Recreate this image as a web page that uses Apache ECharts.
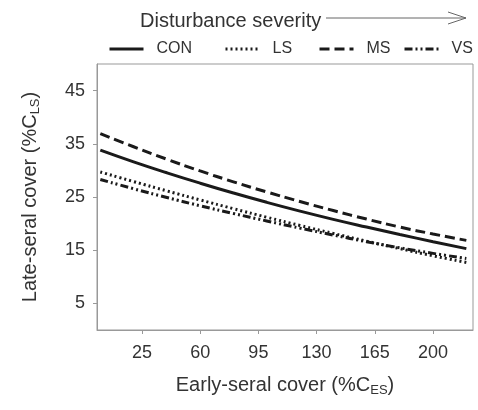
<!DOCTYPE html>
<html>
<head>
<meta charset="utf-8">
<script src="https://cdn.jsdelivr.net/npm/echarts@6/dist/echarts.min.js"></script>
<style>
html,body{margin:0;padding:0;background:#fff;}
#chart{width:478px;height:410px;}
</style>
</head>
<body>
<div id="chart"></div>
<script>
const xValues = [0, 20, 40, 60, 80, 100, 120, 140, 160, 180, 200, 220];
const seriesNames = ['CON', 'LS', 'MS', 'VS'];
const conValues = [33.8, 31.6, 29.55, 27.6, 25.75, 24.0, 22.35, 20.8, 19.35, 17.95, 16.6, 15.3];
const lsValues  = [29.7, 27.9, 26.15, 24.45, 22.8, 21.2, 19.65, 18.15, 16.7, 15.3, 13.95, 12.7];
const msValues  = [36.9, 34.45, 32.1, 29.9, 27.85, 25.95, 24.15, 22.45, 20.85, 19.35, 18.05, 16.85];
const vsValues  = [28.3, 26.55, 24.9, 23.35, 21.9, 20.5, 19.15, 17.85, 16.6, 15.45, 14.4, 13.45];
const xTicks = [25, 60, 95, 130, 165, 200];
const yTicks = [5, 15, 25, 35, 45];

const valuesByName = { CON: conValues, LS: lsValues, MS: msValues, VS: vsValues };
const dashByName = { CON: 'solid', LS: [2, 3], MS: [10, 5], VS: [8, 3, 2, 3, 2, 3] };
const legendLeft = { CON: 103, LS: 219, MS: 313, VS: 398 };
const lineColor = '#1a1a1a';
const textColor = '#333';
const font = 'Liberation Sans, Arial, sans-serif';

const chart = echarts.init(document.getElementById('chart'), null, { renderer: 'canvas' });

const series = seriesNames.map(n => ({
  name: n,
  type: 'line',
  smooth: true,
  symbol: 'none',
  data: xValues.map((x, i) => [x, valuesByName[n][i]]),
  lineStyle: { color: lineColor, width: 3, type: dashByName[n] },
  itemStyle: { color: lineColor }
}));

const legends = seriesNames.map(n => ({
  data: [n],
  left: legendLeft[n],
  top: 36,
  itemWidth: 34,
  itemHeight: 14,
  itemStyle: { color: 'transparent', borderWidth: 0, opacity: 0 },
  lineStyle: { width: 3 },
  textStyle: { fontFamily: font, fontSize: 16, color: textColor, padding: [0, 0, 0, 8] },
  selectedMode: false
}));

chart.setOption({
  animation: false,
  backgroundColor: '#fff',
  title: {
    text: 'Disturbance severity',
    left: 135,
    top: 6,
    textStyle: { fontFamily: font, fontSize: 20, fontWeight: 'normal', color: textColor }
  },
  legend: legends,
  graphic: [
    { type: 'polyline', shape: { points: [[326, 18], [466, 18]] }, style: { stroke: '#666', lineWidth: 1, fill: null } },
    { type: 'polyline', shape: { points: [[448, 12], [466, 18], [448, 24]] }, style: { stroke: '#666', lineWidth: 1, fill: null } }
  ],
  grid: {
    left: 97, right: 5, top: 64, bottom: 80,
    show: true, borderColor: '#999', borderWidth: 1
  },
  xAxis: {
    type: 'value',
    min: -2, max: 224,
    name: '{a|Early-seral cover (%C}{s|ES}{a|)}',
    nameLocation: 'middle',
    nameGap: 44,
    nameTextStyle: {
      rich: {
        a: { fontFamily: font, fontSize: 20, color: textColor },
        s: { fontFamily: font, fontSize: 13, color: textColor, padding: [10, 0, 0, 0] }
      }
    },
    axisLine: { onZero: false, lineStyle: { color: '#999' } },
    axisTick: { customValues: xTicks, length: 4, lineStyle: { color: '#999' } },
    axisLabel: { customValues: xTicks, margin: 14, fontFamily: font, fontSize: 18, color: textColor },
    splitLine: { show: false }
  },
  yAxis: {
    type: 'value',
    min: 0, max: 50,
    name: '{a|Late-seral cover (%C}{s|LS}{a|)}',
    nameLocation: 'middle',
    nameGap: 55,
    nameTextStyle: {
      rich: {
        a: { fontFamily: font, fontSize: 20, color: textColor },
        s: { fontFamily: font, fontSize: 13, color: textColor, padding: [10, 0, 0, 0] }
      }
    },
    axisLine: { show: true, onZero: false, lineStyle: { color: '#999' } },
    axisTick: { show: true, customValues: yTicks, length: 4, lineStyle: { color: '#999' } },
    axisLabel: { customValues: yTicks, margin: 12, fontFamily: font, fontSize: 18, color: textColor },
    splitLine: { show: false }
  },
  series: series
});
</script>
</body>
</html>
